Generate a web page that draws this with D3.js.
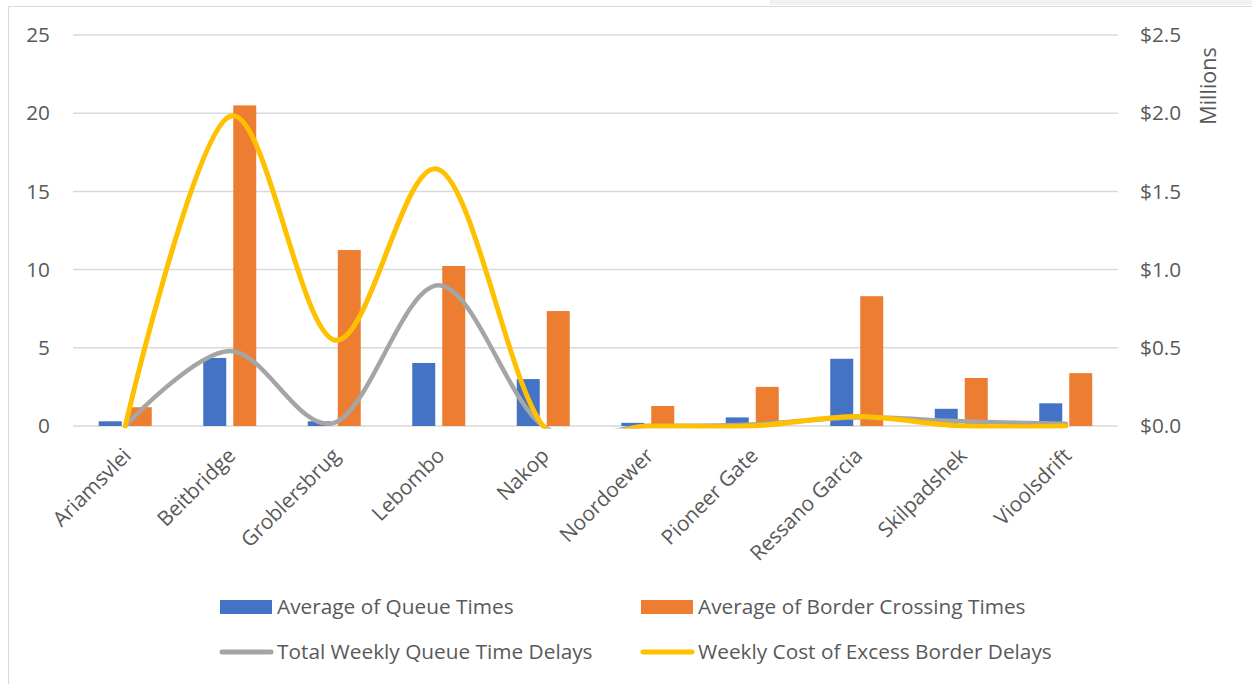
<!DOCTYPE html>
<html><head><meta charset="utf-8">
<script src="https://cdn.jsdelivr.net/npm/d3@7"></script>
<style>
body{margin:0;background:#fff;}
text{font-family:"Open Sans",sans-serif;fill:#595959;}
</style></head>
<body><svg id="c" width="1252" height="684"></svg>
<script>
const categories = ["Ariamsvlei","Beitbridge","Groblersbrug","Lebombo","Nakop","Noordoewer","Pioneer Gate","Ressano Garcia","Skilpadshek","Vioolsdrift"];
const queueTimes = [0.3, 4.35, 0.3, 4.03, 3.0, 0.2, 0.55, 4.3, 1.1, 1.45];
const crossingTimes = [1.2, 20.5, 11.25, 10.23, 7.35, 1.28, 2.5, 8.3, 3.07, 3.38];
const weeklyQueueDelays = [0.0, 0.48, 0.02, 0.90, 0.0, 0.0, 0.01, 0.055, 0.03, 0.015]; // millions $
const weeklyCost = [0.0, 1.98, 0.55, 1.64, 0.0, 0.0, 0.0, 0.06, 0.0, 0.0]; // millions $
const leftTicks = [0,5,10,15,20,25];
const rightTicks = [0,0.5,1.0,1.5,2.0,2.5];
const seriesNames = ["Average of Queue Times","Average of Border Crossing Times","Total Weekly Queue Time Delays","Weekly Cost of Excess Border Delays"];
const colors = ["#4472C4","#ED7D31","#A5A5A5","#FFC000"];

const FS = "20.8px";
const svg = d3.select("#c");
// chart frame
svg.append("rect").attr("x",770).attr("y",0).attr("width",482).attr("height",5).attr("fill","#f2f2f2");
svg.append("rect").attr("x",8.5).attr("y",6.5).attr("width",1300).attr("height",700)
  .attr("fill","none").attr("stroke","#d9d9d9");

const x0 = 73, x1 = 1118, yTop = 35, yBot = 426;
const x = d3.scaleBand().domain(categories).range([x0,x1]);
const yL = d3.scaleLinear().domain([0,25]).range([yBot,yTop]);
const yR = d3.scaleLinear().domain([0,2.5]).range([yBot,yTop]);

// gridlines
svg.append("g").selectAll("line").data(leftTicks).join("line")
  .attr("x1",x0).attr("x2",x1).attr("y1",d=>yL(d)).attr("y2",d=>yL(d))
  .attr("stroke","#d9d9d9").attr("stroke-width",1.5);

// left axis
const gl = svg.append("g").attr("transform",`translate(${x0},0)`)
  .call(d3.axisLeft(yL).tickValues(leftTicks).tickSize(0).tickPadding(23));
gl.select(".domain").remove();
gl.selectAll("text").style("font-size",FS).attr("fill","#595959").style("font-family","Open Sans");

// right axis
const gr = svg.append("g").attr("transform",`translate(${x1},0)`)
  .call(d3.axisRight(yR).tickValues(rightTicks).tickSize(0).tickPadding(22)
    .tickFormat(d=>"$"+d3.format(".1f")(d)));
gr.select(".domain").remove();
gr.selectAll("text").style("font-size",FS).attr("fill","#595959").style("font-family","Open Sans");

svg.append("text").attr("transform","translate(1216,86) rotate(-90)")
  .attr("text-anchor","middle").style("font-size","21.5px").text("Millions");

// bars
const bw = 23, gap = 7;
const cx = c => x(c) + x.bandwidth()/2;
svg.append("g").selectAll("rect").data(categories).join("rect")
  .attr("x",c=>cx(c)-gap/2-bw).attr("width",bw)
  .attr("y",(c,i)=>yL(queueTimes[i])).attr("height",(c,i)=>yBot-yL(queueTimes[i]))
  .attr("fill",colors[0]);
svg.append("g").selectAll("rect").data(categories).join("rect")
  .attr("x",c=>cx(c)+gap/2).attr("width",bw)
  .attr("y",(c,i)=>yL(crossingTimes[i])).attr("height",(c,i)=>yBot-yL(crossingTimes[i]))
  .attr("fill",colors[1]);

// clip for lines
svg.append("clipPath").attr("id","plotclip").append("rect")
  .attr("x",x0).attr("y",0).attr("width",x1-x0).attr("height",yBot+2.5);

const line = d3.line().x((d,i)=>cx(categories[i])).y(d=>yR(d)).curve(d3.curveCardinal.tension(0));
const lg = svg.append("g").attr("clip-path","url(#plotclip)");
lg.append("path").attr("d",line(weeklyQueueDelays)).attr("fill","none")
  .attr("stroke",colors[2]).attr("stroke-width",4.5).attr("stroke-linecap","round");
lg.append("path").attr("d",line(weeklyCost)).attr("fill","none")
  .attr("stroke",colors[3]).attr("stroke-width",5).attr("stroke-linecap","round");

// category labels
svg.append("g").selectAll("text").data(categories).join("text")
  .attr("transform",c=>`translate(${cx(c)+7},${457}) rotate(-45)`)
  .attr("text-anchor","end").style("font-size",FS).text(c=>c);

// legend
const leg = [
  {name:seriesNames[0],type:"rect",color:colors[0],x:220,y:607},
  {name:seriesNames[1],type:"rect",color:colors[1],x:641,y:607},
  {name:seriesNames[2],type:"line",color:colors[2],x:220,y:652},
  {name:seriesNames[3],type:"line",color:colors[3],x:641,y:652}
];
const lgd = svg.append("g");
leg.forEach(l=>{
  if(l.type==="rect"){
    lgd.append("rect").attr("x",l.x).attr("y",l.y-7).attr("width",52).attr("height",14).attr("fill",l.color);
  } else {
    lgd.append("line").attr("x1",l.x+2).attr("x2",l.x+51).attr("y1",l.y).attr("y2",l.y)
      .attr("stroke",l.color).attr("stroke-width",5).attr("stroke-linecap","round");
  }
  lgd.append("text").attr("x",l.x+57).attr("y",l.y).attr("dy","0.35em")
    .style("font-size",FS).text(l.name);
});
</script></body></html>
